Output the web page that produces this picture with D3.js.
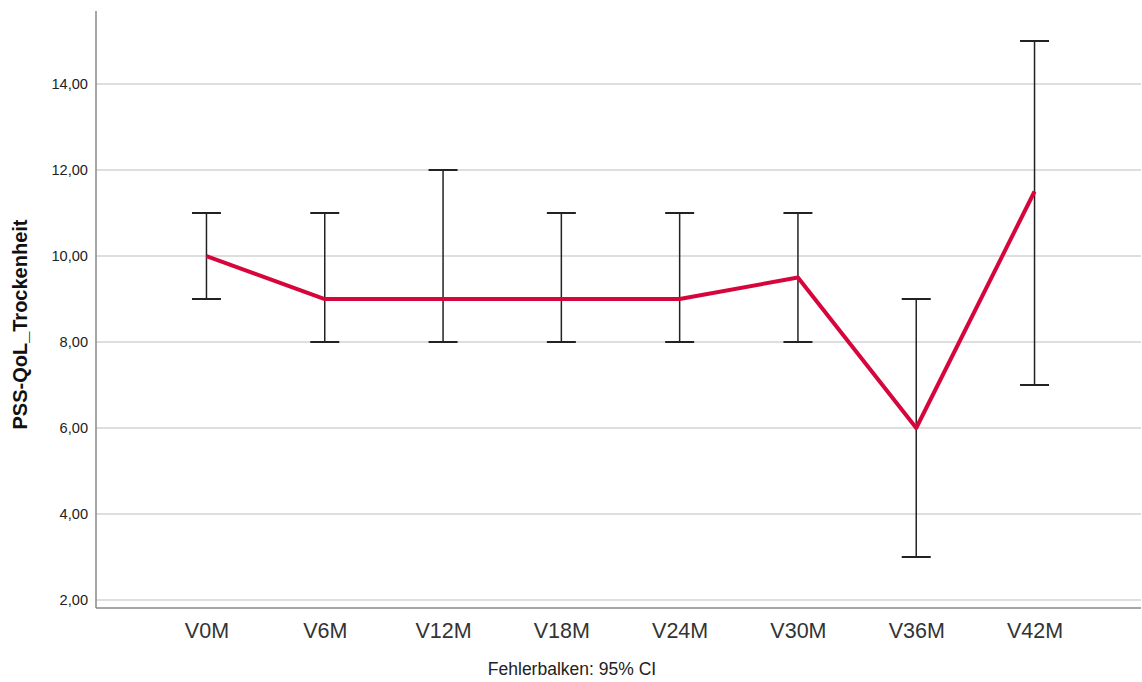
<!DOCTYPE html>
<html><head><meta charset="utf-8">
<script src="https://cdn.jsdelivr.net/npm/d3@7"></script>
<style>body{margin:0;background:#fff}svg{display:block}</style>
</head><body>
<svg id="c" width="1142" height="682"></svg>
<script>
const categories = ["V0M","V6M","V12M","V18M","V24M","V30M","V36M","V42M"];
const means = [10, 9, 9, 9, 9, 9.5, 6, 11.5];
const upper = [11, 11, 12, 11, 11, 11, 9, 15];
const lower = [9, 8, 8, 8, 8, 8, 3, 7];
const yTicks = [2, 4, 6, 8, 10, 12, 14];
const yLabel = "PSS-QoL_Trockenheit";
const footer = "Fehlerbalken: 95% CI";

const svg = d3.select("#c");
const L = 96, R = 1141, T = 11, B = 608;
const x = d3.scalePoint().domain(categories).range([L + 4, R]).padding(0.9);
const y = d3.scaleLinear().domain([1.814, 15.698]).range([B, T]);
const font = "'Liberation Sans', Arial, sans-serif";

// grid
svg.append("g").selectAll("line").data(yTicks).join("line")
  .attr("x1", L).attr("x2", R).attr("y1", d => y(d)).attr("y2", d => y(d))
  .attr("stroke", "#d3d3d3").attr("stroke-width", 1.5);

// y axis
const yAxis = svg.append("g").attr("transform", `translate(${L},0)`)
  .call(d3.axisLeft(y).tickValues(yTicks).tickSize(0).tickPadding(8)
    .tickFormat(d => d3.format(".2f")(d).replace(".", ",")));
yAxis.select(".domain").remove();
yAxis.selectAll("text").attr("font-family", font).attr("font-size", 14.6).attr("fill", "#222");

// x axis
const xAxis = svg.append("g").attr("transform", `translate(0,${B})`)
  .call(d3.axisBottom(x).tickSize(0).tickPadding(12));
xAxis.select(".domain").remove();
xAxis.selectAll("text").attr("font-family", font).attr("font-size", 21.5).attr("fill", "#333")
  .attr("dy", null).attr("y", 30);

// axis lines
svg.append("line").attr("x1", L).attr("x2", L).attr("y1", T).attr("y2", B)
  .attr("stroke", "#888").attr("stroke-width", 1.5);
svg.append("line").attr("x1", L).attr("x2", R).attr("y1", B).attr("y2", B)
  .attr("stroke", "#888").attr("stroke-width", 1.5);

// error bars
const eb = svg.append("g").attr("stroke", "#222");
categories.forEach((c, i) => {
  const cx = x(c);
  eb.append("line").attr("x1", cx).attr("x2", cx).attr("y1", y(lower[i])).attr("y2", y(upper[i])).attr("stroke-width", 1.5);
  [lower[i], upper[i]].forEach(v => {
    eb.append("line").attr("x1", cx - 14.5).attr("x2", cx + 14.5).attr("y1", y(v)).attr("y2", y(v)).attr("stroke-width", 2);
  });
});

// mean line
svg.append("path")
  .datum(categories.map((c, i) => [x(c), y(means[i])]))
  .attr("d", d3.line())
  .attr("fill", "none").attr("stroke", "#d6063c").attr("stroke-width", 4)
  .attr("stroke-linejoin", "round");

// labels
svg.append("text").attr("transform", `translate(27,${(T + B) / 2 + 15}) rotate(-90)`)
  .attr("text-anchor", "middle").attr("font-family", font).attr("font-weight", "bold")
  .attr("font-size", 20).attr("fill", "#111").text(yLabel);
svg.append("text").attr("x", 572).attr("y", 675).attr("text-anchor", "middle")
  .attr("font-family", font).attr("font-size", 17.5).attr("fill", "#222").text(footer);
</script>
</body></html>
